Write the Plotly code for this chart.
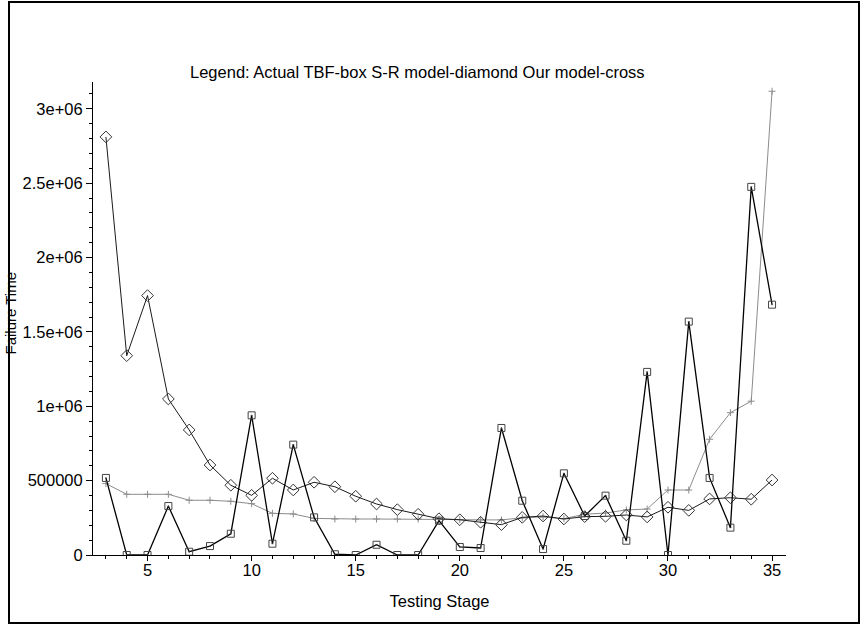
import plotly.graph_objects as go

stages = list(range(3, 36))

actual_tbf = [518000, 0, 0, 329000, 22000, 60000, 143000, 939000, 76000, 742000,
              253000, 5000, 0, 69000, 0, 0, 231000, 54000, 47000, 854000,
              365000, 40000, 549000, 262000, 399000, 96000, 1231000, 0, 1569000, 518000,
              184000, 2475000, 1683000]

sr_model = [2811000, 1340000, 1744000, 1049000, 841000, 605000, 469000, 401000, 516000, 437000,
            489000, 459000, 395000, 343000, 305000, 274000, 244000, 237000, 220000, 204000,
            253000, 262000, 242000, 258000, 260000, 269000, 256000, 321000, 300000, 377000,
            385000, 375000, 504000]

our_model = [480000, 408000, 408000, 408000, 368000, 368000, 361000, 345000, 280000, 276000,
             246000, 242000, 242000, 242000, 242000, 242000, 242000, 238000, 236000, 236000,
             250000, 256000, 244000, 274000, 282000, 303000, 309000, 437000, 437000, 778000,
             957000, 1034000, 3118000]

x_ticks = [5, 10, 15, 20, 25, 30, 35]
y_ticks = [0, 500000, 1000000, 1500000, 2000000, 2500000, 3000000]
y_tick_labels = ["0", "500000", "1e+06", "1.5e+06", "2e+06", "2.5e+06", "3e+06"]

title_text = "Legend: Actual TBF-box S-R model-diamond Our model-cross"
x_title = "Testing Stage"
y_title = "Failure Time"

FONT = "Liberation Sans, Arial, sans-serif"

fig = go.Figure()
fig.add_trace(go.Scatter(
    x=stages, y=our_model, mode="lines+markers",
    line=dict(color="#8c8c8c", width=1),
    marker=dict(symbol="cross-thin-open", size=5, line=dict(color="#555555", width=1)),
    showlegend=False))
fig.add_trace(go.Scatter(
    x=stages, y=sr_model, mode="lines+markers",
    line=dict(color="#1a1a1a", width=1),
    marker=dict(symbol="diamond-open", size=9, color="#333333", line=dict(color="#333333", width=1)),
    showlegend=False))
fig.add_trace(go.Scatter(
    x=stages, y=actual_tbf, mode="lines+markers",
    line=dict(color="#000000", width=1.3),
    marker=dict(symbol="square-open-dot", size=7, color="#444444", line=dict(color="#444444", width=1)),
    showlegend=False))

L, R, T, B = 93, 75, 82, 70
W, H = 861, 625
pw, ph = W - L - R, H - T - B

def px(xp):
    return (xp - L) / pw

def py(yp):
    return (H - B - yp) / ph

fig.update_layout(
    width=W, height=H,
    margin=dict(l=L, r=R, t=T, b=B),
    paper_bgcolor="white", plot_bgcolor="white",
    font=dict(family=FONT, size=16, color="black"),
    xaxis=dict(range=[2.38, 35.67], showline=True, linecolor="black", linewidth=1,
               tickvals=x_ticks, ticks="outside", ticklen=5, tickcolor="black",
               showgrid=False, zeroline=False, ticklabelstandoff=-5,
               tickfont=dict(size=16.5),
               minor=dict(dtick=1, tick0=0, ticks="outside", ticklen=3, tickcolor="black", showgrid=False),
               title=dict(text=x_title, font=dict(size=16.5), standoff=17)),
    yaxis=dict(range=[0, 3.18e6], showline=True, linecolor="black", linewidth=1,
               tickvals=y_ticks, ticktext=y_tick_labels, ticks="outside", ticklen=6,
               tickcolor="black", showgrid=False, zeroline=False,
               tickfont=dict(size=16.5),
               minor=dict(dtick=100000, tick0=0, ticks="outside", ticklen=3, tickcolor="black", showgrid=False)),
    annotations=[
        dict(text=title_text, xref="paper", yref="paper", x=px(417), y=py(72),
             xanchor="center", yanchor="middle", showarrow=False, font=dict(size=16.5)),
        dict(text=y_title, xref="paper", yref="paper", x=px(9.5), y=py(313),
             xanchor="center", yanchor="middle", showarrow=False, textangle=-90,
             font=dict(size=15)),
    ],
    shapes=[
        dict(type="rect", xref="paper", yref="paper", x0=px(9), x1=px(859), y0=py(623), y1=py(2),
             line=dict(color="black", width=2), layer="above"),
    ],
)

fig.write_html("out.html", config={"displayModeBar": False},
               post_script="document.body.style.margin='0';")
